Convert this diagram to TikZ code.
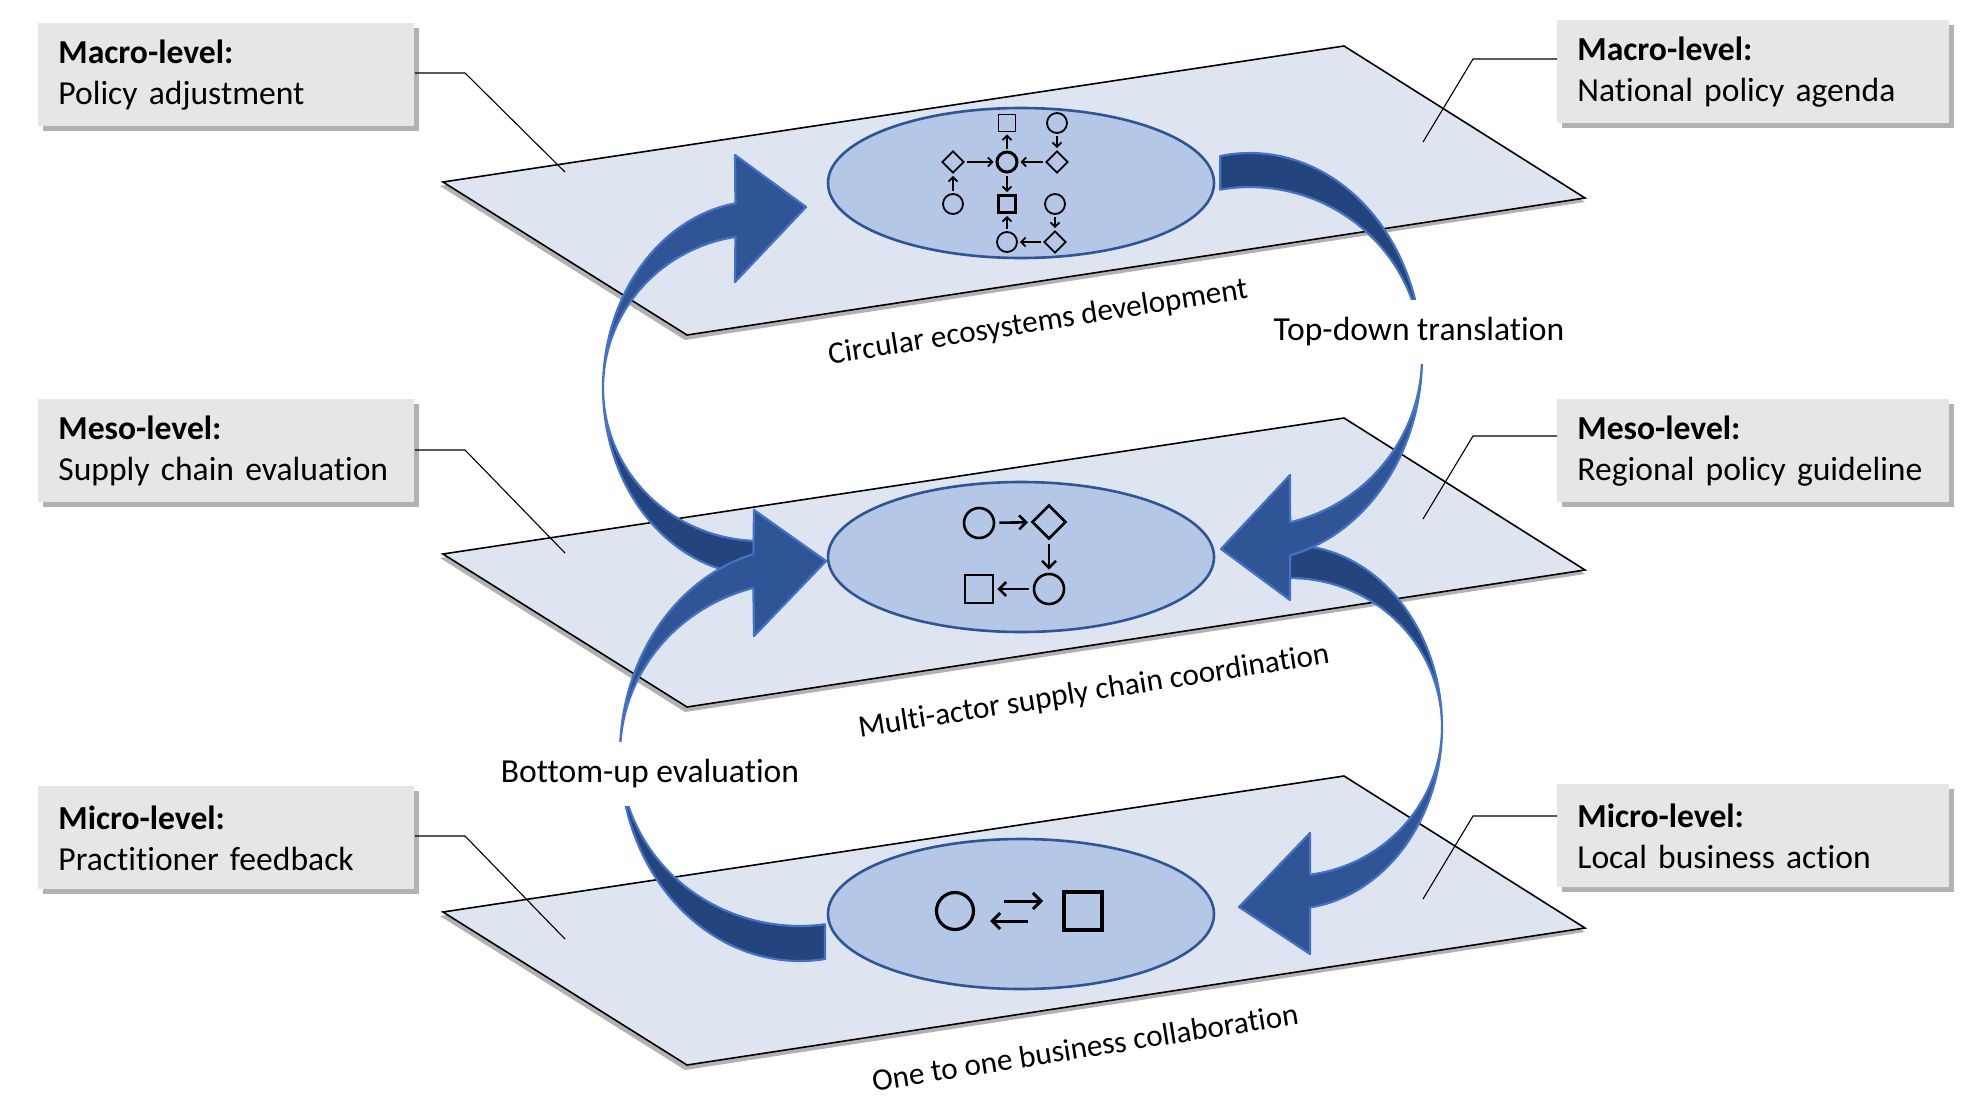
\documentclass[tikz,border=0pt]{standalone}
\usepackage{fontspec}
\setmainfont{Carlito}[Ligatures={NoCommon}]
\usetikzlibrary{shapes.geometric,arrows.meta,shadows}
\definecolor{planefill}{HTML}{DFE5F0}
\definecolor{ellfill}{HTML}{B4C7E7}
\definecolor{ellline}{HTML}{2F5597}
\definecolor{arrfront}{HTML}{2F5597}
\definecolor{arrback}{HTML}{24447D}
\definecolor{arrline}{HTML}{4472C4}
\definecolor{boxgray}{HTML}{E7E6E6}
\tikzset{
  plane/.style={fill=planefill, draw=black, line width=0.8pt, line join=miter},
  planeshadow/.style={fill=black, opacity=0.3},
  lvl/.style={ellipse, fill=ellfill, draw=ellline, line width=1.3pt, minimum width=193pt, minimum height=75pt, inner sep=0pt},
  lbox/.style={fill=boxgray, anchor=north west, align=left, inner xsep=10pt, inner ysep=0pt, minimum height=51.5pt,
     drop shadow={shadow xshift=2.5pt, shadow yshift=-2.5pt, opacity=0.3, fill=black}},
  lboxL/.style={lbox, text width=168pt},
  lboxR/.style={lbox, text width=176pt},
  leader/.style={draw=black, line width=0.55pt},
  front/.style={fill=arrfront, draw=arrline, line width=1.1pt, line join=round},
  back/.style={fill=arrback, draw=arrline, line width=1.1pt, line join=round},
  gapnote/.style={fill=white, inner xsep=4pt, minimum height=32pt},
  tilt/.style={rotate=9, font=\fontsize{15.6}{19}\selectfont},
  sym/.style={draw=black, fill=none, inner sep=0pt, line width=0.9pt},
  tC/.style={sym, circle, minimum size=10pt},
  tS/.style={sym, rectangle, minimum size=8.5pt},
  tD/.style={sym, diamond, minimum width=11pt, minimum height=11pt},
  heavy/.style={line width=1.5pt},
  tA/.style={-{Straight Barb[length=2.2pt,width=4.5pt]}, line width=0.9pt, shorten <=1pt, shorten >=1pt},
  mC/.style={sym, circle, minimum size=15pt, line width=1.3pt},
  mS/.style={sym, rectangle, minimum size=14pt, line width=1.3pt},
  mD/.style={sym, diamond, minimum width=17pt, minimum height=17pt, line width=1.3pt},
  mA/.style={-{Straight Barb[length=3.5pt,width=7pt]}, line width=1.3pt, shorten <=2pt, shorten >=1.5pt},
  bC/.style={sym, circle, minimum size=18.5pt, line width=1.6pt},
  bS/.style={sym, rectangle, minimum size=19pt, line width=1.6pt},
  bA/.style={-{Straight Barb[length=4pt,width=8pt]}, line width=1.5pt},
}
\begin{document}
\begin{tikzpicture}[x=0.5pt, y=-0.5pt, font=\fontsize{16.8}{20.5}\selectfont]
\useasboundingbox (0,0) rectangle (1969,1103);

% planes
\foreach \dy in {0,372,730}{
  \fill[planeshadow] (440,{186+\dy}) -- (685,{340+\dy}) -- (1585,{202+\dy}) -- (1344,{50+\dy}) -- cycle;
  \draw[plane] (443,{182+\dy}) -- (687,{335+\dy}) -- (1585,{198+\dy}) -- (1344,{46+\dy}) -- cycle;
}

% level ellipses
\node[lvl] (eT) at (1021,183) {};
\node[lvl] (eM) at (1021,557) {};
\node[lvl] (eB) at (1021,914) {};

% top network
\node[tS] (n1) at (1007,123) {};
\node[tC] (n2) at (1057,123) {};
\node[tD] (n3) at (953,162) {};
\node[tC, heavy] (n4) at (1007,162) {};
\node[tD] (n5) at (1057,162) {};
\node[tC] (n6) at (953,204) {};
\node[tS, heavy] (n7) at (1007,204) {};
\node[tC] (n8) at (1055,204) {};
\node[tC] (n9) at (1007,242) {};
\node[tD] (n10) at (1055,242) {};
\draw[tA] (n4) -- (n1);
\draw[tA] (n2) -- (n5);
\draw[tA] (n3) -- (n4);
\draw[tA] (n5) -- (n4);
\draw[tA] (n4) -- (n7);
\draw[tA] (n6) -- (n3);
\draw[tA] (n9) -- (n7);
\draw[tA] (n8) -- (n10);
\draw[tA] (n10) -- (n9);

% middle network
\node[mC] (m1) at (979,523) {};
\node[mD] (m2) at (1049,522) {};
\node[mC] (m3) at (1049,589) {};
\node[mS] (m4) at (979,589) {};
\draw[mA] (m1) -- (m2);
\draw[mA] (m2) -- (m3);
\draw[mA] (m3) -- (m4);

% bottom pair
\node[bC] (b1) at (955,911) {};
\node[bS] (b2) at (1083,911) {};
\coordinate (u1) at (1004,901);
\coordinate (u2) at (1043,901);
\coordinate (w1) at (1028,921);
\coordinate (w2) at (990,921);
\draw[bA] (u1) -- (u2);
\draw[bA] (w1) -- (w2);

% curved arrow A1 (left, up to macro)
\filldraw[back] plot[variable=\t, domain=92:180, samples=40] ({760+157*cos(\t)},{388+187*sin(\t)})
  -- plot[variable=\t, domain=180:92, samples=40] ({760+157*cos(\t)},{388+153*sin(\t)}) -- cycle;
\filldraw[front] plot[variable=\t, domain=180:261, samples=40] ({760+157*cos(\t)},{388+187*sin(\t)})
  -- (735,155) -- (806,207) -- (735,282)
  -- plot[variable=\t, domain=261:180, samples=40] ({760+157*cos(\t)},{388+153*sin(\t)}) -- cycle;

% curved arrow A2 (left, up to meso)
\filldraw[back] plot[variable=\t, domain=82:180, samples=40] ({800+180*cos(\t)},{754+207*sin(\t)})
  -- plot[variable=\t, domain=180:82, samples=40] ({800+180*cos(\t)},{754+172*sin(\t)}) -- cycle;
\filldraw[front] plot[variable=\t, domain=180:255, samples=40] ({800+180*cos(\t)},{754+207*sin(\t)})
  -- (754,510) -- (826,561) -- (754,636)
  -- plot[variable=\t, domain=255:180, samples=40] ({800+180*cos(\t)},{754+172*sin(\t)}) -- cycle;

% curved arrow A4 (right, down to micro)
\filldraw[back] plot[variable=\t, domain=266:360, samples=40] ({1290+152*cos(\t)},{727+182*sin(\t)})
  -- plot[variable=\t, domain=360:266, samples=40] ({1290+152*cos(\t)},{727+149*sin(\t)}) -- cycle;
\filldraw[front] plot[variable=\t, domain=0:82.4, samples=40] ({1290+152*cos(\t)},{727+182*sin(\t)})
  -- (1310,954) -- (1239,907) -- (1310,833)
  -- plot[variable=\t, domain=82.4:0, samples=40] ({1290+152*cos(\t)},{727+149*sin(\t)}) -- cycle;

% curved arrow A3 (right, down to meso)
\filldraw[back] plot[variable=\t, domain=260:360, samples=40] ({1250+172*cos(\t)},{357+204*sin(\t)})
  -- plot[variable=\t, domain=360:260, samples=40] ({1250+172*cos(\t)},{357+170*sin(\t)}) -- cycle;
\filldraw[front] plot[variable=\t, domain=0:76.5, samples=40] ({1250+172*cos(\t)},{357+204*sin(\t)})
  -- (1290,600) -- (1221,549) -- (1290,475)
  -- plot[variable=\t, domain=76.5:0, samples=40] ({1250+172*cos(\t)},{357+170*sin(\t)}) -- cycle;

% arrow captions (white background hides the arrow twist)
\node[gapnote] (tTD) at (1419,332) {Top-down translation};
\node[gapnote] (tBU) at (650,774) {Bottom-up evaluation};

% plane captions
\node[tilt] (lT) at (1038,323) {Circular ecosystems development};
\node[tilt] (lM) at (1094,692) {Multi-actor supply chain coordination};
\node[tilt] (lB) at (1085,1047) {One to one business collaboration};

% label boxes
\node[lboxL] (bML) at (38,23) {\textbf{Macro-level:}\\Policy adjustment};
\node[lboxR] (bMR) at (1557,20) {\textbf{Macro-level:}\\National policy agenda};
\node[lboxL] (bSL) at (38,399) {\textbf{Meso-level:}\\Supply chain evaluation};
\node[lboxR] (bSR) at (1557,399) {\textbf{Meso-level:}\\Regional policy guideline};
\node[lboxL] (bIL) at (38,786) {\textbf{Micro-level:}\\Practitioner feedback};
\node[lboxR] (bIR) at (1557,784) {\textbf{Micro-level:}\\Local business action};

% leader lines
\coordinate (kML) at (465,73);   \coordinate (pML) at (565,172);
\coordinate (kMR) at (1473,59);  \coordinate (pMR) at (1423,142);
\coordinate (kSL) at (465,450);  \coordinate (pSL) at (565,553);
\coordinate (kSR) at (1473,436); \coordinate (pSR) at (1423,519);
\coordinate (kIL) at (465,836);  \coordinate (pIL) at (565,939);
\coordinate (kIR) at (1473,816); \coordinate (pIR) at (1423,899);
\draw[leader] (bML.east |- kML) -- (kML) -- (pML);
\draw[leader] (bMR.west |- kMR) -- (kMR) -- (pMR);
\draw[leader] (bSL.east |- kSL) -- (kSL) -- (pSL);
\draw[leader] (bSR.west |- kSR) -- (kSR) -- (pSR);
\draw[leader] (bIL.east |- kIL) -- (kIL) -- (pIL);
\draw[leader] (bIR.west |- kIR) -- (kIR) -- (pIR);
\end{tikzpicture}
\end{document}
